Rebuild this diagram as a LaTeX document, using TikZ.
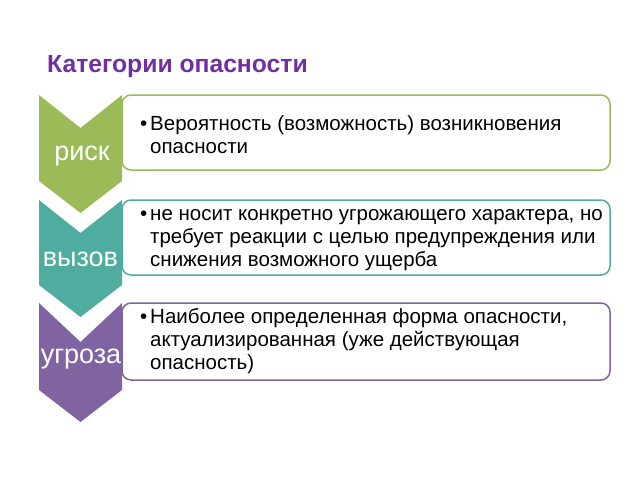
\documentclass[tikz,border=0pt]{standalone}
\usepackage{fontspec}
\setmainfont{Liberation Sans}
\usetikzlibrary{positioning}
\definecolor{riskgreen}{HTML}{9BBB59}
\definecolor{callteal}{HTML}{4FADA0}
\definecolor{threatviolet}{HTML}{8064A2}
\definecolor{headviolet}{HTML}{7030A0}

\begin{document}
\begin{tikzpicture}[x=1pt, y=-1pt,
  lbl/.style={text=white, inner sep=0pt, font=\fontsize{27}{30}\selectfont},
  frame/.style={line width=1.5pt, fill=white, rounded corners=9pt},
  item/.style={anchor=west, align=left, inner sep=0pt, font=\fontsize{20.5}{23}\selectfont},
  dot/.style={inner sep=0pt, font=\fontsize{20.5}{23}\selectfont},
  head/.style={anchor=base west, text=headviolet, inner sep=0pt, font=\bfseries\fontsize{24.7}{28}\selectfont}]
\useasboundingbox (0,0) rectangle (640,480);
\node[head] (title) at (47,72) {Категории опасности};
% frames
\draw[frame, draw=riskgreen] (122,95) -- (610,95) -- (610,170) -- (122,170) -- cycle;
\draw[frame, draw=callteal] (122,200) -- (610,200) -- (610,275) -- (122,275) -- cycle;
\draw[frame, draw=threatviolet] (122,303) -- (610,303) -- (610,380) -- (122,380) -- cycle;
% chevrons
\fill[riskgreen] (39,95) -- (80.5,128) -- (122,95) -- (122,181) -- (80.5,213) -- (39,181) -- cycle;
\fill[callteal] (39,200) -- (80.5,233) -- (122,200) -- (122,285) -- (80.5,317) -- (39,285) -- cycle;
\fill[threatviolet] (39,303) -- (80.5,342) -- (122,303) -- (122,390) -- (80.5,422) -- (39,390) -- cycle;
\node[lbl] (risk) at (82,156) {риск};
\node[lbl] (call) at (80.5,259) {вызов};
\node[lbl] (threat) at (81,359) {угроза};
% texts
\node[item] (riskt) at (150,134) {\strut Вероятность (возможность) возникновения\\опасности};
\node[item] (callt) at (150,238) {\strut не носит конкретно угрожающего характера, но\\требует реакции с целью предупреждения или\\снижения возможного ущерба};
\node[item] (threatt) at (150,341) {\strut Наиболее определенная форма опасности,\\актуализированная (уже действующая\\опасность)};
\node[dot, left=2.5pt of riskt.north west, anchor=north east] (riskb) {\strut\textbullet};
\node[dot, left=2.5pt of callt.north west, anchor=north east] (callb) {\strut\textbullet};
\node[dot, left=2.5pt of threatt.north west, anchor=north east] (threatb) {\strut\textbullet};
\end{tikzpicture}
\end{document}
